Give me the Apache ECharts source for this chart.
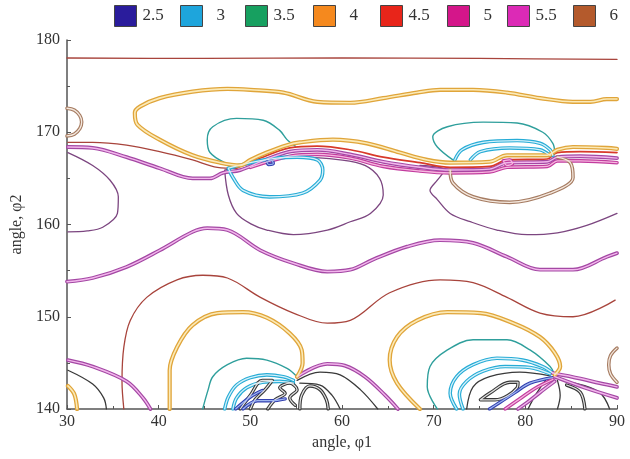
<!DOCTYPE html>
<html><head><meta charset="utf-8">
<script src="https://cdn.jsdelivr.net/npm/echarts/dist/echarts.min.js"></script>
<style>html,body{margin:0;padding:0;background:#fff}#c{width:630px;height:459px}</style>
</head><body><div id="c"></div>
<script>
// ---- legend / levels ----
const levels = ['2.5','3','3.5','4','4.5','5','5.5','6'];
const levelColors = ['#2a1c9c','#1ea5dc','#17a060','#f5891e','#e8251a','#d4168a','#dc2ab6','#b45a2c'];

// ---- contour lines, [phi1, phi2] ----
const topLine = [[30,178.05],[45,178.0],[60,178.05],[75,178.0],[90,177.9]];
const orangeTop = [[90,173.6],[88.9,173.6],[87.1,173.3],[85.2,173.3],[81.6,173.7],[78.0,174.3],[74.3,174.6],[70.7,174.6],[68.2,174.3],[64.5,173.7],[60.9,173.2],[57.3,173.3],[53.6,174.3],[50.0,174.6],[47.5,174.7],[43.7,174.4],[40.1,173.7],[38.0,172.8],[37.4,172.1],[37.7,170.8],[40.1,169.2],[43.7,167.5],[46.7,166.7],[48.9,166.4],[50.0,167.0],[51.8,167.8],[54.0,168.6],[55.4,168.9],[59.0,169.2],[62.7,168.8],[66.3,167.8],[69.3,167.0],[71.8,166.7],[76.1,166.8],[78.0,167.5],[82.4,167.5],[83.5,168.1],[85.2,168.4],[88.9,168.3],[90,168.2]];
const redLeft = [[30.1,168.9],[32.8,168.9],[36.5,168.6],[40.1,167.9],[43.7,167.0],[46.4,166.2],[48.5,166.1]];
const redBundle = [[48.5,166.1],[51.1,167.2],[54.3,168.3],[57.3,168.5],[60.9,168.1],[64.5,167.3],[68.5,166.7],[71.8,166.2],[76.1,166.3],[78.0,167.0],[82.4,167.1],[83.5,167.8],[86.0,167.9],[90,167.8]];
const magentaBundle = [[30.1,168.4],[32.8,168.3],[36.5,167.3],[40.1,166.1],[43.7,165.0],[45.6,165.0],[47.0,165.6],[48.9,165.9],[51.6,167.0],[54.3,167.9],[57.3,168.1],[60.9,167.6],[64.5,166.8],[68.5,166.2],[71.8,165.9],[76.1,166.0],[78.0,166.7],[82.4,166.8],[83.5,167.3],[86.0,167.4],[90,167.2]];
const pinkBundle = [[50.0,166.2],[54.3,167.4],[57.3,167.6],[60.9,167.2],[64.5,166.3],[68.5,165.8],[71.8,165.6],[76.1,165.7],[78.0,166.2],[82.4,166.3],[83.5,166.9],[86.0,166.9],[90,166.7]];
const brownLeftArc = [[30,172.6],[30.8,172.4],[31.4,171.8],[31.6,171.1],[31.4,170.4],[30.8,169.8],[30,169.6]];
const purpleLeftLoop = [[30.1,167.8],[32.8,166.4],[34.7,164.8],[35.6,163.0],[35.5,161.2],[33.9,159.7],[32.2,159.3],[30.1,159.2]];
const purpleLoop1 = [[47.2,165.9],[47.6,163.2],[48.5,161.2],[50.0,160.1],[51.8,159.4],[54.7,158.9],[58.4,159.4],[60.9,160.3],[63.1,161.2],[64.5,163.2],[64.1,165.0],[62.5,166.4],[59.8,167.0],[55.4,167.3],[51.1,166.8],[47.2,165.9]];
const purpleLoop2 = [[68.5,166.4],[71.2,165.9],[70.4,164.8],[69.6,163.7],[70.4,162.7],[71.8,161.2],[74.0,160.3],[76.9,159.4],[80.2,158.9],[83.5,159.1],[86.7,159.9],[90,161.2]];
const tealLoop1 = [[47.2,166.7],[45.6,167.8],[45.3,169.2],[45.9,170.6],[48.5,171.5],[51.4,171.3],[53.2,170.2],[54.0,169.2],[54.9,168.5]];
const cyanLoop1 = [[47.6,166.1],[48.1,165.1],[49.2,163.7],[52.1,163.0],[55.7,163.4],[57.6,164.8],[57.9,165.9],[57.3,167.0],[55.1,167.3],[52.9,167.2],[50.0,166.7],[47.6,166.1]];
const blueMark1 = [[51.8,166.8],[52.3,167.0],[52.5,166.6],[52.0,166.5],[51.8,166.8]];
const tealLoop2 = [[72.1,167.0],[70.4,168.4],[69.9,169.5],[71.5,170.6],[75.4,171.1],[79.1,171.0],[81.9,170.0],[83.0,168.8],[83.2,167.9]];
const cyanCap2a = [[72.3,167.0],[73.1,168.1],[75.4,168.9],[79.1,169.1],[81.6,168.8],[82.7,168.1],[83.0,167.5]];
const cyanCap2b = [[74.0,167.0],[75.1,167.9],[78.3,168.3],[81.6,168.1],[82.7,167.5]];
const brownLoop2 = [[71.8,165.9],[72.1,164.5],[74.3,163.0],[78.3,162.4],[82.7,163.4],[85.2,165.1],[84.9,166.7],[83.5,167.3]];
const pinkMark2 = [[77.6,166.9],[78.3,167.0],[78.6,166.6],[78.0,166.4],[77.6,166.9]];
const purpleWave = [[30,153.8],[32.8,154.2],[36.5,155.4],[40.1,157.2],[43.7,159.2],[45.3,159.6],[47.5,159.4],[51.1,157.2],[54.7,155.8],[58.4,154.9],[60.9,155.1],[63.4,156.2],[67.1,157.6],[70.7,158.3],[74.3,158.0],[78.0,156.5],[81.6,155.1],[85.2,155.1],[88.9,156.5],[90,156.9]];
const redWave = [[36.2,140],[36.0,143.0],[36.2,146.7],[36.9,149.6],[38.7,152.1],[42.0,154.0],[44.8,154.5],[47.5,154.2],[51.1,152.1],[54.7,150.4],[58.4,149.3],[60.9,149.6],[65.2,152.6],[70.7,154.0],[74.3,153.7],[78.0,152.1],[81.6,150.4],[85.2,150.0],[89.8,151.8]];
const orangeLoopB1 = [[41.2,140],[41.2,144.2],[42.0,146.7],[43.7,149.1],[46.4,150.4],[49.2,150.5],[51.8,149.9],[54.3,148.2],[55.6,146.4],[55.7,145.0],[55.1,143.5]];
const tealB1 = [[44.8,140],[45.4,142.1],[45.9,143.5],[47.5,144.8],[49.6,145.5],[51.8,145.3],[54.0,144.4],[55.1,143.5]];
const cyanB1a = [[47.2,140],[47.6,141.3],[48.5,142.6],[50.0,143.4],[51.8,143.7],[53.6,143.5],[54.7,143.1]];
const cyanB1b = [[48.1,140],[48.5,141.2],[49.6,142.3],[51.3,142.9],[53.2,143.0],[54.7,142.8]];
const blackB1a = [[48.9,140],[50.0,141.5],[51.3,143.1],[52.4,143.1],[51.6,142.1],[50.5,141.0],[50.0,140]];
const blackB1b = [[51.9,140],[52.7,141.0],[53.8,141.7],[53.2,142.3],[54.3,142.8],[55.1,142.1],[54.3,141.2],[54.9,140.4]];
const blackArcB1 = [[55.4,140],[55.6,141.5],[56.5,142.5],[57.6,142.1],[58.3,141.0],[58.5,140]];
const blueB1a = [[49.2,140],[50.8,140.9],[52.3,140.9],[53.8,141.1]];
const blueB1b = [[48.4,140],[50.0,141.3],[51.3,142.0]];
const magentaB1 = [[55.1,143.5],[58.4,144.9],[60.3,144.7],[62.5,143.5],[64.7,141.5],[66.1,140]];
const darkB1a = [[55.1,143.1],[57.6,144.0],[59.8,143.7],[62.0,142.1],[63.9,140]];
const darkB1b = [[55.4,142.8],[57.6,142.6],[58.9,141.5],[59.8,140]];
const magentaLeftB = [[30.1,145.3],[32.8,144.6],[36.5,143.0],[38.3,141.2],[39.1,140]];
const darkLeftB = [[30.1,144.2],[32.8,142.7],[34.0,141.2],[34.3,140]];
const orangeLeftArc = [[30.1,142.5],[30.8,141.6],[31.1,140]];
const orangeLoopB2 = [[68.5,140],[66.0,142.8],[65.2,145.3],[66.0,147.8],[68.2,149.6],[71.5,150.5],[75.1,150.4],[78.7,149.3],[81.6,147.8],[83.2,146.1],[83.8,144.6],[83.2,143.7]];
const tealB2 = [[70.4,140],[69.3,142.4],[69.6,144.6],[71.5,146.4],[74.3,147.5],[78.0,147.5],[80.5,146.4],[82.7,144.6],[83.2,143.7]];
const cyanB2a = [[72.5,140],[71.8,141.7],[72.5,143.5],[74.3,144.8],[76.9,145.5],[79.7,145.3],[81.9,144.6],[83.0,143.9]];
const cyanB2b = [[73.2,140],[72.8,141.6],[73.6,143.0],[75.4,144.1],[77.8,144.6],[80.5,144.5],[82.7,143.8]];
const darkB2 = [[73.6,140],[74.3,142.4],[76.1,143.5],[79.4,144.0],[82.7,143.6]];
const blackBoxB2 = [[75.1,141.0],[76.1,141.7],[78.3,142.9],[79.2,142.9],[79.1,142.3],[76.7,141.0],[75.1,141.0]];
const blueB2 = [[83.0,143.4],[80.5,142.8],[78.9,141.8],[77.2,140.7],[76.1,140]];
const pinkB2 = [[83.0,143.2],[81.0,142.2],[79.4,141.1],[77.8,140]];
const magentaB2 = [[83.2,143.0],[81.6,141.8],[80.2,140.7],[79.2,140]];
const magentaR1 = [[83.0,143.9],[86.0,143.3],[88.1,142.8],[90,142.4]];
const magentaR2 = [[83.2,143.5],[86.5,142.3],[90,141.2]];
const darkR1 = [[83.5,143.1],[83.8,141.5],[83.5,140]];
const blackR2 = [[84.5,142.6],[86.0,141.8],[86.5,140]];
const darkR3 = [[85.4,142.8],[88.1,141.8],[89.2,140]];
const darkR4 = [[82.2,143.1],[81.1,141.5],[80.3,140]];
const brownRightArc = [[90,146.6],[89.3,145.8],[89.1,144.8],[89.3,143.8],[90,142.9]];

// ---- styles ----
const styles = {
  orange2:  {o:'#e0a53a', i:'#fbeab8', wo:4.2, wi:1.6},
  cyan2:    {o:'#27acd6', i:'#d6f1fa', wo:3.6, wi:1.3},
  purple2:  {o:'#a448a4', i:'#f2b6ec', wo:3.8, wi:1.4},
  magenta2: {o:'#c23c9e', i:'#f6b8e0', wo:3.6, wi:1.3},
  brown2:   {o:'#a67c62', i:'#f4e8de', wo:3.6, wi:1.3},
  black2:   {o:'#3a3a3a', i:'#e4e4e4', wo:3.4, wi:1.2},
  blue2:    {o:'#3340b0', i:'#9fb6f0', wo:3.4, wi:1.2},
  redT:     {o:'#a8443c', wo:1.3},
  purpleT:  {o:'#7c4680', wo:1.3},
  tealT:    {o:'#2f9f9c', wo:1.4},
  darkT:    {o:'#3a3a3a', wo:1.3},
  redB:     {o:'#d8392a', wo:1.7}
};
const contours = [
  [topLine,'redT'],[redWave,'redT'],[redLeft,'redT'],
  [purpleLeftLoop,'purpleT'],[purpleLoop1,'purpleT'],[purpleLoop2,'purpleT'],
  [tealLoop1,'tealT'],[tealLoop2,'tealT'],[tealB1,'tealT'],[tealB2,'tealT'],
  [darkLeftB,'darkT'],[darkB1a,'darkT'],[darkB1b,'darkT'],[darkB2,'darkT'],[darkR1,'darkT'],[darkR3,'darkT'],[darkR4,'darkT'],
  [purpleWave,'purple2'],[magentaLeftB,'purple2'],
  [pinkBundle,'magenta2'],[magentaBundle,'purple2'],[redBundle,'redB'],
  [cyanLoop1,'cyan2'],[cyanCap2a,'cyan2'],[cyanCap2b,'cyan2'],[cyanB1a,'cyan2'],[cyanB1b,'cyan2'],[cyanB2a,'cyan2'],[cyanB2b,'cyan2'],
  [brownLeftArc,'brown2'],[brownLoop2,'brown2'],[brownRightArc,'brown2'],
  [blackB1a,'black2'],[blackB1b,'black2'],[blackArcB1,'black2'],[blackBoxB2,'black2'],[blackR2,'black2'],
  [blueB1a,'blue2'],[blueB1b,'blue2'],[blueB2,'blue2'],[blueMark1,'blue2'],
  [magentaB1,'purple2'],[pinkB2,'magenta2'],[magentaB2,'purple2'],[magentaR1,'purple2'],[magentaR2,'purple2'],[pinkMark2,'magenta2'],
  [orangeTop,'orange2'],[orangeLoopB1,'orange2'],[orangeLoopB2,'orange2'],[orangeLeftArc,'orange2']
];

const series = [];
levels.forEach((lv,i)=>series.push({name:lv,type:'line',data:[],itemStyle:{color:levelColors[i]}}));
contours.forEach(([d,s])=>{
  const st = styles[s];
  series.push({type:'line',data:d,showSymbol:false,smooth:0.35,silent:true,z:2,
    lineStyle:{color:st.o,width:st.wo,cap:'round',join:'round'}});
  if (st.i) series.push({type:'line',data:d,showSymbol:false,smooth:0.35,silent:true,z:3,
    lineStyle:{color:st.i,width:st.wi,cap:'round',join:'round'}});
});

const legendLeft = [114,180,245,313,380,447,507,573];
const serif = 'Liberation Serif';
const chart = echarts.init(document.getElementById('c'));
chart.setOption({
  animation:false,
  backgroundColor:'#fff',
  legend: levels.map((lv,i)=>({
    data:[{name:lv,icon:'rect',itemStyle:{color:levelColors[i],borderColor:'#444',borderWidth:1}}],
    left:legendLeft[i], top:5, padding:0, itemWidth:22, itemHeight:21, selectedMode:false,
    textStyle:{fontFamily:serif,fontSize:17,color:'#333',padding:[0,0,0,lv.length>1?1:9]}
  })),
  grid:{left:67,right:13,top:40,bottom:50},
  xAxis:{type:'value',min:30,max:90,interval:10,
    name:'angle, φ1',nameLocation:'middle',nameGap:26,
    nameTextStyle:{fontFamily:serif,fontSize:16,color:'#333'},
    axisLine:{lineStyle:{color:'#555',width:1.5}},
    axisTick:{inside:true,length:4,lineStyle:{color:'#555'}},
    minorTick:{show:true,splitNumber:2,length:3,lineStyle:{color:'#555'}},
    splitLine:{show:false},
    axisLabel:{fontFamily:serif,fontSize:16,color:'#333',margin:5}},
  yAxis:{type:'value',min:140,max:180,interval:10,
    name:'angle, φ2',nameLocation:'middle',nameGap:40,
    nameTextStyle:{fontFamily:serif,fontSize:16,color:'#333'},
    axisLine:{show:true,lineStyle:{color:'#555',width:1.5}},
    axisTick:{show:true,inside:true,length:4,lineStyle:{color:'#555'}},
    minorTick:{show:true,splitNumber:2,length:3,lineStyle:{color:'#555'}},
    splitLine:{show:false},
    axisLabel:{fontFamily:serif,fontSize:16,color:'#333',margin:7}},
  series: series
});
</script></body></html>
